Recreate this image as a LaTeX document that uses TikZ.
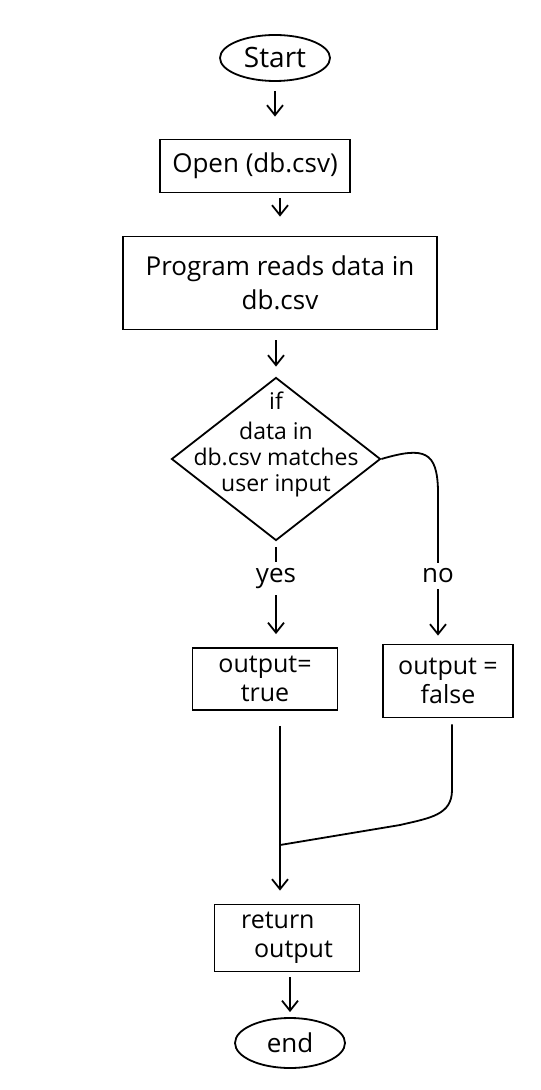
\documentclass[tikz,border=0pt]{standalone}
\usepackage{fontspec}
\setmainfont{Open Sans}
\usetikzlibrary{arrows.meta,shapes.geometric}
\begin{document}
\begin{tikzpicture}[x=0.5pt,y=-0.5pt, line width=0.9pt,
  font=\fontsize{13}{17}\selectfont,
  box/.style={draw, rectangle, inner sep=0pt, align=center},
  small/.style={font=\fontsize{12.5}{14.5}\selectfont},
  term/.style={draw, ellipse, inner sep=0pt},
  arr/.style={-{Straight Barb[length=5pt,width=8pt]}},
  lbl/.style={fill=white, inner sep=3pt}]
\useasboundingbox (0,0) rectangle (540,1090);
\node[term, minimum width=55pt, minimum height=23pt, font=\fontsize{14}{17}\selectfont] (start) at (275,58) {Start};
\node[box, minimum width=95pt, minimum height=26.5pt] (open) at (255,166) {Open (db.csv)};
\node[box, minimum width=157pt, minimum height=46.5pt] (read) at (280,283) {Program reads data in\\db.csv};
\node[draw, diamond, minimum width=104.5pt, minimum height=81.5pt, inner sep=0pt] (dec) at (276,459) {};
\node[align=center, font=\fontsize{11.5}{13}\selectfont] (dtext) at (276,444) {if\\[2pt]data in\\db.csv matches\\user input};
\node[box, small, minimum width=72.5pt, minimum height=31pt] (true) at (265,679) {output=\\true};
\node[box, small, minimum width=65pt, minimum height=36.5pt] (false) at (448,681) {output =\\false};
\node[box, small, minimum width=72.5pt, minimum height=33.5pt, align=left] (ret) at (287,938) {return\\\ \ output};
\node[term, minimum width=55pt, minimum height=25pt] (end) at (290,1043) {end};
\coordinate (nx) at (438,490);
\coordinate (join) at (280,845);
\coordinate (fb) at (452,790);
\draw[arr, shorten <=4.5pt, shorten >=11pt] (start.south) -- (start.south |- open.north);
\draw[arr, shorten <=2.5pt, shorten >=9.5pt] (read.north |- open.south) -- (read.north);
\draw[arr, shorten <=5pt, shorten >=5pt] (read.south -| dec.north) -- (dec.north);
\draw[arr, shorten <=3pt, shorten >=6.5pt] (dec.south) -- node[lbl, pos=0.35]{yes} (dec.south |- true.north);
\draw[arr, shorten >=4pt] (dec.east) .. controls (425,446) and (437,452) .. (nx) -- node[lbl, pos=0.56]{no} (nx |- false.north);
\draw[arr, shorten <=7.5pt, shorten >=6.5pt] (true.south -| join) -- (join) -- (join |- ret.north);
\draw[shorten <=3pt] (false.south -| fb) -- (fb) .. controls (452,815) and (430,818) .. (400,825) -- (join);
\draw[arr, shorten <=2.5pt, shorten >=2.5pt] (ret.south -| end.north) -- (end.north);
\end{tikzpicture}
\end{document}
